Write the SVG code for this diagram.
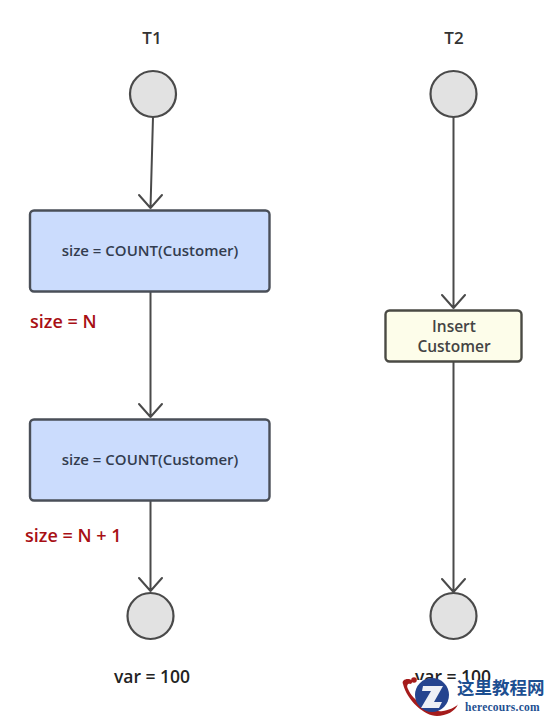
<svg xmlns="http://www.w3.org/2000/svg" width="547" height="718" viewBox="0 0 547 718">
<style>
text{font-family:"Open Sans","Noto Sans","Liberation Sans",sans-serif;font-weight:600;text-anchor:middle}
.head{font-size:17px;fill:#333}
.var{font-size:17.5px;fill:#222}
.red{font-size:18px;fill:#a80f14;text-anchor:start}
.lbl{font-size:15px;fill:#333c4f}
.ins{font-size:15.5px;fill:#444}
.c{fill:#e2e2e2;stroke:#4a4a4a;stroke-width:2.2}
.b{fill:#cbdcfd;stroke:#4a4f58;stroke-width:2.4}
.y{fill:#fdfdea;stroke:#4a4a44;stroke-width:2.4}
.l{fill:none;stroke:#4a4a4a;stroke-width:2;stroke-linecap:round;stroke-linejoin:round}
.wmz{font-family:"Noto Sans CJK SC",sans-serif;font-weight:700;font-size:17.5px;fill:#1d4f91;text-anchor:start}
.wme{font-family:"Liberation Serif",serif;font-weight:700;font-size:11.5px;fill:#1d4f91;text-anchor:start;letter-spacing:.25px}
</style>
<g id="connectors">
<path class="l" d="M153 117 150.500 208M139 195 150.500 208 162 195"/>
<path class="l" d="M150.500 292V417M139 404 150.500 417 162 404"/>
<path class="l" d="M150.500 501V591M139 578 150.500 591 162 578"/>
<path class="l" d="M453.500 117V308M442 295 453.500 308 465 295"/>
<path class="l" d="M453.500 362V592M442 579 453.500 592 465 579"/>
</g>
<g id="t1-label"><text class="head" x="152" y="44">T1</text></g>
<g id="t2-label"><text class="head" x="454" y="44">T2</text></g>
<g id="t1-start"><circle class="c" cx="153" cy="94" r="23"/></g>
<g id="t2-start"><circle class="c" cx="453.500" cy="94" r="23"/></g>
<g id="count1"><rect class="b" x="30" y="210.500" width="239.500" height="81" rx="4"/><text class="lbl" x="150" y="256">size = COUNT(Customer)</text></g>
<g id="size-n"><text class="red" x="30" y="328">size = N</text></g>
<g id="insert"><rect class="y" x="385.500" y="310.500" width="136" height="51" rx="4"/><text class="ins" x="454" y="331.500">Insert</text><text class="ins" x="454" y="351.500">Customer</text></g>
<g id="count2"><rect class="b" x="30" y="419.500" width="239.500" height="81" rx="4"/><text class="lbl" x="150" y="465">size = COUNT(Customer)</text></g>
<g id="size-n1"><text class="red" x="25" y="542">size = N + 1</text></g>
<g id="t1-end"><circle class="c" cx="150.500" cy="616" r="23"/></g>
<g id="t2-end"><circle class="c" cx="453.500" cy="616" r="23"/></g>
<g id="var1"><text class="var" x="152" y="683">var = 100</text></g>
<g id="var2"><text class="var" x="453" y="683">var = 100</text></g>
<g id="watermark">
<rect x="396" y="680" width="151" height="38" fill="#fff"/>
<path d="M403 684C401 680 408 677 413 681L411 684C408 683 406 685 408 689 413 701 431 713 443 711 446 711 457 707 458 704 456 711 446 716 437 716 424 716 407 700 403 684Z" fill="#a51c1c"/>
<circle cx="414" cy="680" r="2.800" fill="#a51c1c"/>
<circle cx="432" cy="695" r="17" fill="#25448f"/>
<path d="M423 686H443L434 702H442L439 708H421L431 691H422Z" fill="#eef0f6"/>
<text class="wmz" x="457" y="694">这里教程网</text>
<text class="wme" x="465" y="711">herecours.com</text>
</g>
</svg>
